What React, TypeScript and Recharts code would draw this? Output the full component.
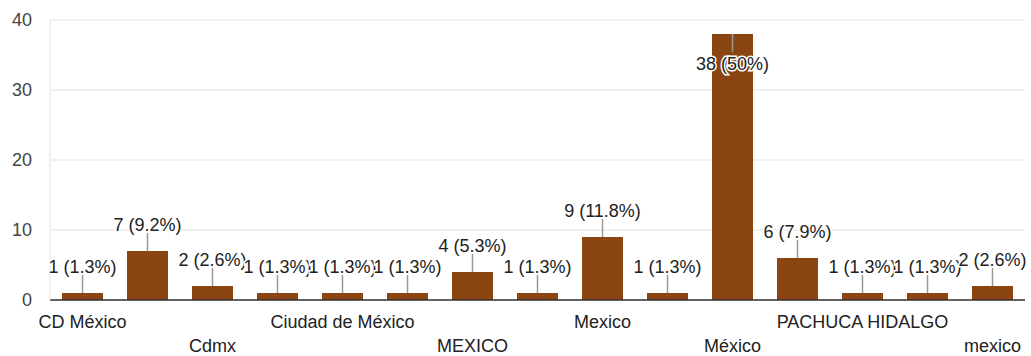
import { BarChart, Bar, XAxis, YAxis, CartesianGrid, LabelList } from 'recharts';

const categories = [
  'CD México',
  'CDMX',
  'Cdmx',
  'Ciudad De México',
  'Ciudad de México',
  'Estado de México',
  'MEXICO',
  'MÉXICO',
  'Mexico',
  'Mexico ',
  'México',
  'México ',
  'PACHUCA HIDALGO',
  'Puebla',
  'mexico',
];
const counts = [1, 7, 2, 1, 1, 1, 4, 1, 9, 1, 38, 6, 1, 1, 2];
const yTicks = [0, 10, 20, 30, 40];

const total = counts.reduce((a, b) => a + b, 0);
const data = categories.map((name, i) => ({ name, value: counts[i] }));

const FONT = '"Liberation Sans", Arial, sans-serif';
const BAR = '#8b4513';

function pct(v: number) {
  const p = ((v / total) * 100).toFixed(1);
  return p.endsWith('.0') ? p.slice(0, -2) : p;
}

function XTick(props: any) {
  const { x, y, payload, index } = props;
  if (index % 2 === 1) return null;
  const row = index % 4 === 0 ? 0 : 1;
  return (
    <text
      x={x}
      y={y + 20 + row * 24}
      textAnchor="middle"
      fontSize={18}
      fontFamily={FONT}
      fill="#222"
    >
      {payload.value}
    </text>
  );
}

function BarLabel(props: any) {
  const { x, y, width, value } = props;
  const cx = x + width / 2;
  const inside = y < 60;
  const lineEnd = inside ? y + 18 : y - 18;
  const ty = inside ? y + 30 : y - 26;
  return (
    <g>
      <line x1={cx} y1={y} x2={cx} y2={lineEnd} stroke="#999" strokeWidth={1.5} />
      <text
        x={cx}
        y={ty}
        dy={6}
        textAnchor="middle"
        fontSize={18}
        fontFamily={FONT}
        fill="#222"
        stroke="#fff"
        strokeWidth={3}
        paintOrder="stroke"
      >
        {`${value} (${pct(value)}%)`}
      </text>
    </g>
  );
}

export default function App() {
  return (
    <div style={{ position: 'absolute', top: 0, left: 0, background: '#fff' }}>
      <BarChart
        width={1031}
        height={356}
        data={data}
        margin={{ top: 20, right: 6, bottom: 0, left: 0 }}
        barCategoryGap={12}
      >
        <CartesianGrid stroke="#ebebeb" strokeWidth={1.5} vertical={false} />
        <XAxis
          dataKey="name"
          interval={0}
          tick={<XTick />}
          tickLine={false}
          axisLine={{ stroke: '#333', strokeWidth: 1.5 }}
          height={56}
        />
        <YAxis
          domain={[0, 40]}
          ticks={yTicks}
          width={50}
          tickLine={false}
          tickMargin={12}
          axisLine={{ stroke: '#ebebeb', strokeWidth: 1.5 }}
          tick={{ fontSize: 18, fontFamily: FONT, fill: '#444' }}
        />
        <Bar dataKey="value" fill={BAR} isAnimationActive={false}>
          <LabelList dataKey="value" content={<BarLabel />} />
        </Bar>
      </BarChart>
    </div>
  );
}
